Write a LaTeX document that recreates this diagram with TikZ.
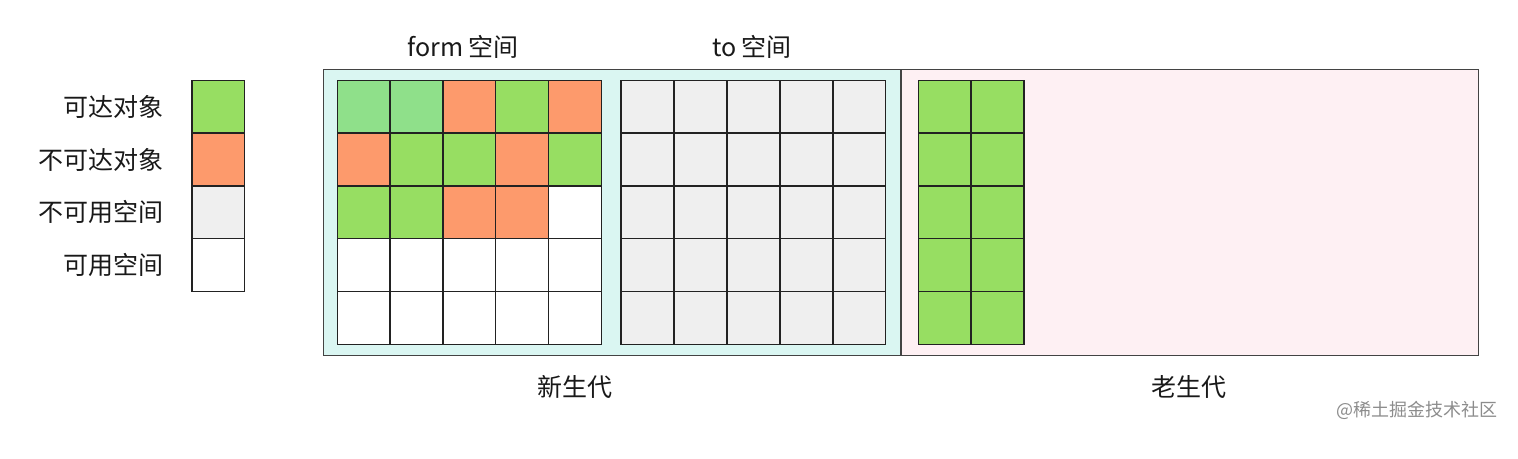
\documentclass[tikz,border=0pt]{standalone}
\usepackage{fontspec}
\setmainfont{Noto Sans CJK SC}
\usetikzlibrary{positioning}

\definecolor{reach}{RGB}{151,222,98}
\definecolor{reachlt}{RGB}{143,224,138}
\definecolor{unreach}{RGB}{253,154,108}
\definecolor{used}{RGB}{239,239,239}
\definecolor{free}{RGB}{255,255,255}
\definecolor{younggen}{RGB}{218,246,242}
\definecolor{oldgen}{RGB}{254,240,243}
\definecolor{edge}{RGB}{34,34,34}

\tikzset{
  cell/.style={draw=edge, line width=1.5pt, minimum size=52.8pt, inner sep=0pt, anchor=north west},
  gen/.style={draw=edge!85, line width=1.3pt, minimum width=577pt, minimum height=286pt, inner sep=0pt, anchor=north west},
  lbl/.style={font=\fontsize{25}{29}\selectfont, text=black!90, inner sep=0pt},
  wmtext/.style={font=\fontsize{18}{21}\selectfont, text=black!45, inner sep=0pt}
}

\begin{document}
\begin{tikzpicture}[x=1pt,y=-1pt]
\useasboundingbox (0,0) rectangle (1518,458);

\node[gen, fill=younggen] (young) at (323,69) {};
\node[gen, fill=oldgen] (old) at (900.5,69) {};

\foreach \c [count=\i from 0] in {reach,unreach,used,free}
  \node[cell, fill=\c] (key\i) at (191,79.5+52.8*\i) {};
\node[lbl, anchor=east, left=27pt of key0] (keyreach) {可达对象};
\node[lbl, anchor=east, left=27pt of key1] (keyunreach) {不可达对象};
\node[lbl, anchor=east, left=27pt of key2] (keyused) {不可用空间};
\node[lbl, anchor=east, left=27pt of key3] (keyfree) {可用空间};

\foreach \c [count=\i from 0] in {reachlt,reachlt,unreach,reach,unreach,
    unreach,reach,reach,unreach,reach,
    reach,reach,unreach,unreach,free,
    free,free,free,free,free,
    free,free,free,free,free} {
  \pgfmathtruncatemacro\col{mod(\i,5)}
  \pgfmathtruncatemacro\row{\i/5}
  \node[cell, fill=\c] (from\row\col) at (336.5+52.8*\col,79.5+52.8*\row) {};
}

\foreach \row in {0,...,4}
  \foreach \col in {0,...,4}
    \node[cell, fill=used] (to\row\col) at (620+53*\col,79.5+52.8*\row) {};

\foreach \row in {0,...,4}
  \foreach \col in {0,1}
    \node[cell, fill=reach] (tenured\row\col) at (917.5+53*\col,79.5+52.8*\row) {};

\node[lbl] (fromlabel) at (463,47) {form 空间};
\node[lbl] (tolabel) at (752,47) {to 空间};
\node[lbl] (younglabel) at (575,387) {新生代};
\node[lbl] (oldlabel) at (1189,387) {老生代};
\node[wmtext] (watermark) at (1417,410) {@稀土掘金技术社区};
\end{tikzpicture}
\end{document}
